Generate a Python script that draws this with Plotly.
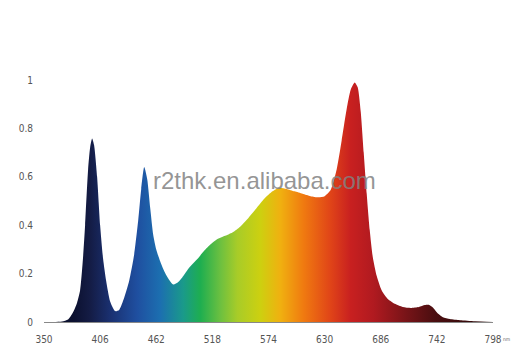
import plotly.graph_objects as go

# Wavelength (nm) and relative intensity
wavelength = [350, 360, 368, 374, 379, 383, 386, 389, 391, 394, 396, 398, 400, 403, 406,
              409, 412, 416, 421, 425, 430, 435, 440, 444, 447, 450, 453, 456, 459, 462,
              466, 470, 474, 479, 484, 489, 495, 503, 510, 516, 522, 530, 538, 546, 554,
              562, 570, 578, 585, 592, 600, 608, 616, 624, 630, 636, 642, 647, 652, 656,
              660, 663, 666, 669, 672, 675, 678, 682, 687, 693, 700, 708, 716, 724, 730,
              734, 738, 743, 748, 755, 765, 780, 800]
intensity = [0.0, 0.0, 0.002, 0.01, 0.04, 0.08, 0.13, 0.27, 0.40, 0.63, 0.72, 0.758, 0.73, 0.60, 0.40,
             0.26, 0.17, 0.085, 0.045, 0.05, 0.10, 0.17, 0.28, 0.42, 0.55, 0.64, 0.59, 0.47, 0.36, 0.30,
             0.25, 0.21, 0.18, 0.155, 0.165, 0.19, 0.225, 0.26, 0.295, 0.32, 0.34, 0.355, 0.37, 0.395, 0.43,
             0.47, 0.51, 0.54, 0.555, 0.55, 0.54, 0.53, 0.52, 0.515, 0.52, 0.545, 0.63, 0.75, 0.88, 0.96,
             0.99, 0.97, 0.87, 0.70, 0.53, 0.38, 0.27, 0.19, 0.13, 0.095, 0.075, 0.062, 0.058, 0.062, 0.07,
             0.071, 0.06, 0.035, 0.02, 0.012, 0.007, 0.003, 0.0]

x_ticks = [350, 406, 462, 518, 574, 630, 686, 742, 798]
y_ticks = [0, 0.2, 0.4, 0.6, 0.8, 1]
y_tick_labels = ["0", "0.2", "0.4", "0.6", "0.8", "1"]

# Spectrum colours by wavelength
color_nm = [350, 380, 396, 416, 443, 466, 489, 506, 526, 543, 566, 586, 609, 636, 656, 679, 710, 740, 800]
color_hex = ["#0a0e2a", "#0c1130", "#141c45", "#1a3070", "#1f4fa0", "#1c6fb0", "#1a9a8a", "#1eae50",
             "#6cc040", "#a8cc28", "#cdd010", "#f0b010", "#f07a10", "#e04418", "#c82020", "#b01a20",
             "#7a1418", "#4a0e10", "#2a0808"]
lo, hi = color_nm[0], color_nm[-1]
colorscale = [[(w - lo) / (hi - lo), c] for w, c in zip(color_nm, color_hex)]

fig = go.Figure()
fig.add_trace(go.Scatter(
    x=wavelength, y=intensity, mode="lines",
    line=dict(width=0, shape="spline", smoothing=0.6, color="rgba(0,0,0,0)"),
    fill="tozeroy",
    fillgradient=dict(type="horizontal", colorscale=colorscale, start=lo, stop=hi),
    hoverinfo="skip", showlegend=False,
))

fig.update_layout(
    width=528, height=357,
    margin=dict(l=44, r=35, t=80, b=33),
    paper_bgcolor="white", plot_bgcolor="white",
    font=dict(family="Liberation Sans Narrow, DejaVu Sans Condensed, sans-serif", size=10, color="#555"),
    xaxis=dict(range=[350, 798], tickvals=x_ticks, ticktext=[str(v) for v in x_ticks],
               showgrid=False, zeroline=False, showline=True, linecolor="#888", linewidth=1,
               ticks="", ticklabelstandoff=8),
    yaxis=dict(range=[0, 1], tickvals=y_ticks, ticktext=y_tick_labels,
               showgrid=False, zeroline=False, showline=False, ticks="", ticklabelstandoff=10),
    annotations=[
        dict(text="nm", x=798, y=0, xref="x", yref="y", xanchor="left", yanchor="top",
             xshift=8, yshift=-12, showarrow=False, font=dict(size=5, color="#666")),
        dict(text="r2thk.en.alibaba.com",
             x=(264 - 44) / (528 - 44 - 35), y=(324 - 181) / (324 - 80),
             xref="paper", yref="paper",
             showarrow=False, font=dict(family="Liberation Sans, Arial, sans-serif", size=24,
                                        color="rgba(130,130,130,0.85)")),
    ],
)

fig.write_html("out.html")
